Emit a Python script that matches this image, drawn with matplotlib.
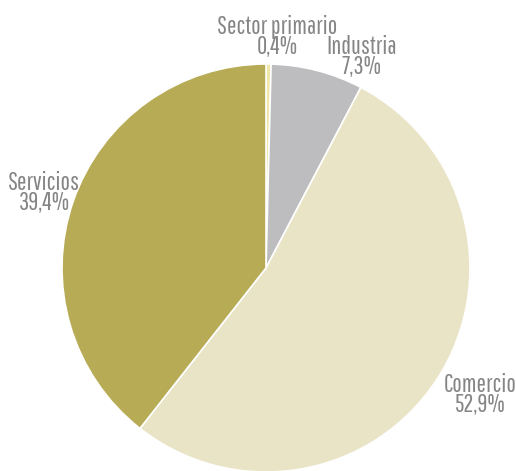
import matplotlib
matplotlib.use("Agg")
import matplotlib.pyplot as plt

sectors = ["Sector primario", "Industria", "Comercio", "Servicios"]
shares = [0.4, 7.3, 52.9, 39.4]
pct_labels = ["0,4%", "7,3%", "52,9%", "39,4%"]
colors = ["#efe6a8", "#bdbdbf", "#e9e4c6", "#b7ab55"]

W, H = 516, 471
fig = plt.figure(figsize=(W / 100, H / 100), dpi=100)
ax = fig.add_axes([0, 0, 1, 1])

# pie centre and radius in pixels (y counted from the bottom)
cx, cy, r = 266, H - 268, 204
ax.pie(shares, colors=colors, startangle=90, counterclock=False,
       center=(cx, cy), radius=r,
       wedgeprops=dict(edgecolor="white", linewidth=1.2))
ax.set_xlim(0, W)
ax.set_ylim(0, H)
ax.set_aspect("equal")
ax.axis("off")

# label anchor: x centre and baseline of last line, pixels from top-left
label_pos = [(277, 54), (362, 74), (480, 412), (44, 210)]
for name, pct, (x, y) in zip(sectors, pct_labels, label_pos):
    ax.text(x, H - y, name + "\n" + pct, ha="center", va="baseline",
            fontsize=18, color="#858585", family="Pathway Gothic One",
            linespacing=0.78)

fig.savefig("out.png", dpi=100)
